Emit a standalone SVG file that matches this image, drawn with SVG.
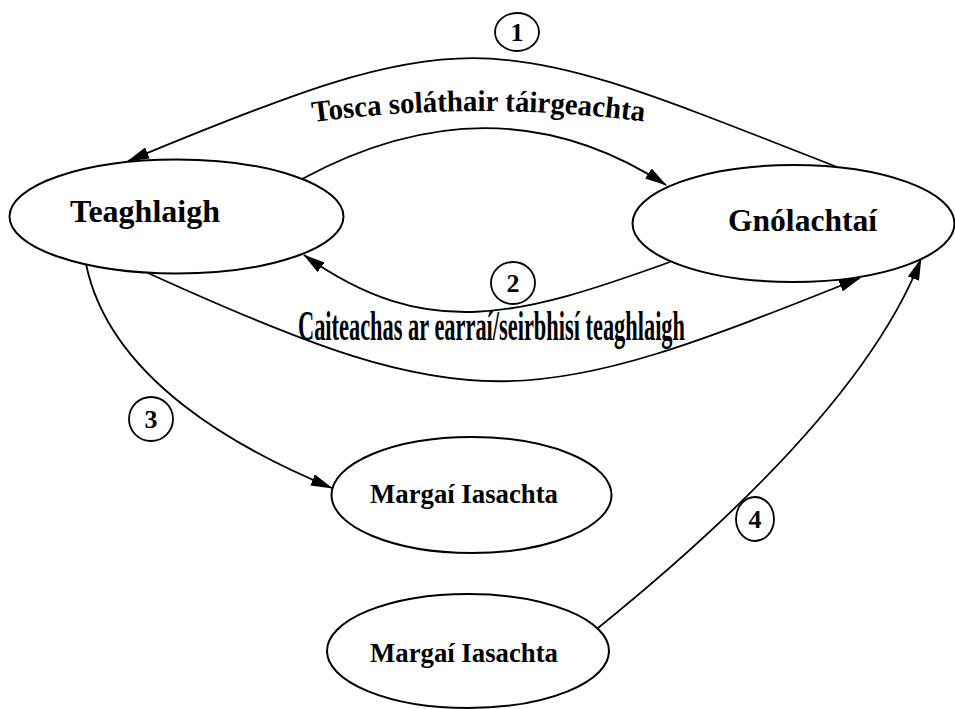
<svg xmlns="http://www.w3.org/2000/svg" width="955" height="709" viewBox="0 0 955 709">
<defs>
<marker id="ah" markerUnits="userSpaceOnUse" viewBox="0 0 22 12" refX="21" refY="6" markerWidth="22" markerHeight="12" orient="auto">
<path d="M0,0 L22,6 L0,12 Z" fill="#000"/>
</marker>
<path id="toscaPath" d="M 313,122 Q 480,100 647,122"/>
</defs>
<style>
.node ellipse{fill:#fff;stroke:#000;stroke-width:2}
.lbl{font-family:"Liberation Serif","Times New Roman",serif;font-weight:bold;fill:#000}
.edge{fill:none;stroke:#000;stroke-width:1.8;marker-end:url(#ah)}
.num ellipse{fill:#fff;stroke:#000;stroke-width:1.8}
.num text{font-family:"Liberation Serif","Times New Roman",serif;font-weight:bold;font-size:26px;text-anchor:middle}
</style>
<rect width="955" height="709" fill="#fff"/>
<g id="connectors">
<path class="edge" d="M 837,167 C 487,30 477,16 128,161"/>
<path class="edge" d="M 302,179 C 424,113 546,107 666,185"/>
<path class="edge" d="M 670,262 C 520,316 427,343 304,255"/>
<path class="edge" d="M 148,273 C 477,423 530,410 860,278"/>
<path class="edge" d="M 86,264 C 110,380 240,450 332,488"/>
<path class="edge" d="M 598,628 Q 860,416 921,259"/>
</g>
<g id="teaghlaigh" class="node">
<ellipse cx="176.5" cy="216.5" rx="167" ry="57"/>
<text class="lbl" x="145" y="222" font-size="32" textLength="150" lengthAdjust="spacingAndGlyphs" text-anchor="middle">Teaghlaigh</text>
</g>
<g id="gnolachtai" class="node">
<ellipse cx="793.5" cy="223.5" rx="161" ry="58.5"/>
<text class="lbl" x="802.5" y="231" font-size="32" textLength="149" lengthAdjust="spacingAndGlyphs" text-anchor="middle">Gnólachtaí</text>
</g>
<g id="margai1" class="node">
<ellipse cx="471.5" cy="495" rx="140" ry="58"/>
<text class="lbl" x="464" y="503" font-size="28" textLength="188" lengthAdjust="spacingAndGlyphs" text-anchor="middle">Margaí Iasachta</text>
</g>
<g id="margai2" class="node">
<ellipse cx="468" cy="651" rx="141" ry="57"/>
<text class="lbl" x="464" y="662" font-size="28" textLength="188" lengthAdjust="spacingAndGlyphs" text-anchor="middle">Margaí Iasachta</text>
</g>
<g id="label-tosca">
<text class="lbl" font-size="30"><textPath href="#toscaPath" textLength="332" lengthAdjust="spacingAndGlyphs">Tosca soláthair táirgeachta</textPath></text>
</g>
<g id="label-caiteachas">
<text class="lbl" x="298" y="340" font-size="42" textLength="387" lengthAdjust="spacingAndGlyphs">Caiteachas ar earraí/seirbhisí teaghlaigh</text>
</g>
<g id="num1" class="num">
<ellipse cx="517" cy="32" rx="22" ry="19"/>
<text x="517" y="41">1</text>
</g>
<g id="num2" class="num">
<ellipse cx="513" cy="283" rx="22" ry="21"/>
<text x="513" y="292">2</text>
</g>
<g id="num3" class="num">
<ellipse cx="151" cy="419" rx="22" ry="22"/>
<text x="151" y="428">3</text>
</g>
<g id="num4" class="num">
<ellipse cx="755" cy="519" rx="19" ry="22"/>
<text x="755" y="528">4</text>
</g>
</svg>
